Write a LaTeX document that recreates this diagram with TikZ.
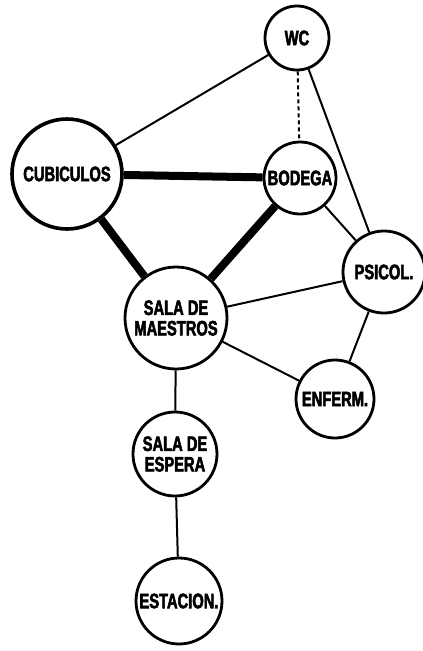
\documentclass[tikz,border=0pt]{standalone}
\usepackage{fontspec}
\newfontfamily\roomfont{Liberation Sans}[FakeStretch=0.7,FakeBold=2.5]
\usepackage{tikz}

\begin{document}
\begin{tikzpicture}[
    x=1pt, y=-1pt,
    room/.style={circle, draw=black, line width=2.8pt, inner sep=0pt, align=center, font=\roomfont\bfseries\fontsize{21}{20.5}\selectfont},
    strong/.style={line width=8pt},
    weak/.style={line width=2pt}
]
\useasboundingbox (0,0) rectangle (423,651);
\node[room, line width=3.6pt, minimum size=110pt] (cub) at (67,174) {CUBICULOS};
\node[room, minimum size=64pt] (wc) at (297,38) {WC};
\node[room, minimum size=72pt] (bod) at (300,178) {BODEGA};
\node[room, minimum size=82pt] (psi) at (384,272) {PSICOL.};
\node[room, minimum size=102pt] (sala) at (176,318) {SALA DE\\MAESTROS};
\node[room, minimum size=78pt] (enf) at (335,399) {ENFERM.};
\node[room, minimum size=84pt] (esp) at (175,454) {SALA DE\\ESPERA};
\node[room, minimum size=86pt] (est) at (179,601) {ESTACION.};

\draw[weak] (wc) -- (cub);
\draw[weak, dash pattern=on 4pt off 3pt] (wc) -- (bod);
\draw[weak] (wc) -- (psi);
\draw[strong] (cub) -- (bod);
\draw[strong] (cub) -- (sala);
\draw[strong] (bod) -- (sala);
\draw[weak] (bod) -- (psi);
\draw[weak] (sala) -- (psi);
\draw[weak] (sala) -- (enf);
\draw[weak] (psi) -- (enf);
\draw[weak] (sala) -- (esp);
\draw[weak] (esp) -- (est);
\end{tikzpicture}
\end{document}
